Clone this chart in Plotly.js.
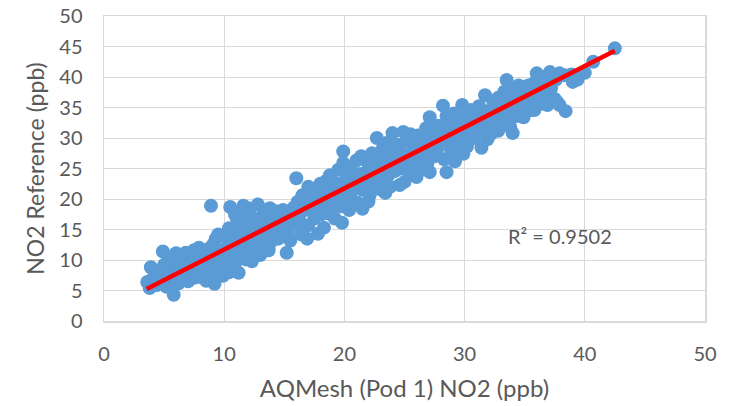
<!DOCTYPE html>
<html>
<head>
<meta charset="utf-8">
<script src="https://cdn.plot.ly/plotly-3.0.1.min.js"></script>
<style>html,body{margin:0;padding:0;background:#fff;}#chart{width:730px;height:406px;}</style>
</head>
<body>
<div id="chart"></div>
<script>
// AQMesh (Pod 1) NO2 (ppb) vs NO2 Reference (ppb)
const podNO2 = [
 3.6,3.8,3.9,4.2,4.4,
 4.9,5.0,5.1,5.2,5.4,5.5,
 5.8,5.9,6.0,6.1,6.2,6.4,6.5,
 6.8,6.9,7.0,7.2,7.3,7.5,7.5,
 7.8,7.9,8.0,8.2,8.3,8.5,8.5,
 8.9,8.8,9.0,9.1,9.2,9.3,9.4,9.5,
 9.8,9.9,10.0,10.1,10.3,10.4,10.5,10.5,
 10.8,10.9,11.0,11.1,11.2,11.3,11.5,11.6,11.4,
 11.8,11.9,12.0,12.2,12.3,12.4,12.5,12.6,
 12.8,12.9,13.0,13.1,13.3,13.4,13.5,
 13.8,13.9,14.0,14.2,14.4,14.5,
 14.9,15.0,15.2,15.3,15.5,15.5,
 16.0,16.1,16.0,16.3,16.4,16.5,
 16.9,17.0,17.0,17.2,17.3,17.5,17.5,
 17.8,17.9,18.0,18.1,18.3,18.4,18.5,
 18.8,18.9,19.0,19.2,19.3,19.5,19.5,
 19.9,19.9,19.8,20.0,20.2,20.4,20.5,20.5,
 20.8,21.0,21.1,21.3,21.5,21.5,21.4,
 21.8,22.0,22.1,22.3,22.4,22.5,
 22.7,22.9,23.0,23.2,23.3,23.5,23.5,
 23.8,24.0,24.1,24.2,24.4,24.5,24.6,
 24.9,25.0,25.1,25.2,25.4,25.5,25.5,
 25.8,26.0,26.1,26.3,26.4,26.5,
 26.8,26.9,27.0,27.1,27.1,27.3,27.5,
 27.8,28.0,28.2,28.3,28.4,28.5,28.5,
 28.8,29.0,29.1,29.2,29.4,29.5,
 29.8,29.9,30.0,30.2,30.3,30.5,30.5,
 30.8,31.0,31.2,31.4,31.5,
 31.7,31.9,32.0,32.2,32.4,32.5,
 32.8,33.0,33.1,33.3,33.5,33.5,
 33.8,34.0,34.1,34.3,34.5,34.5,
 34.9,35.0,35.1,35.3,35.5,35.5,
 36.0,36.0,36.2,36.4,36.5,
 37.1,37.0,37.3,37.5,37.9,
 37.7,38.4,37.9,
 39.0,39.4,40.0,40.7,42.5,
 4.0,4.6,5.3,5.7,6.3,6.6,7.1,7.6,8.1,8.6,8.7,9.6,9.7,10.2,10.6,11.0,11.6,11.7,
 12.1,12.4,12.7,13.2,13.6,13.7,14.1,14.6,14.7,15.1,15.6,15.8,16.2,16.7,16.8,
 17.4,17.6,18.2,18.6,18.7,19.1,19.4,19.7,20.1,20.7,20.9,21.2,21.7,21.9,22.2,
 22.6,22.8,23.1,23.6,23.7,24.3,24.7,24.8,25.3,25.7,25.9,26.2,26.6,26.7,27.2,
 27.6,27.7,28.1,28.6,28.7,29.3,29.6,29.7,30.1,30.6,30.7,31.1,31.3,31.6,32.1,
 32.6,32.7,33.2,33.6,33.7,34.2,34.7,34.8,35.2,35.7,35.8,36.3,36.7,36.8,37.2,
 37.6,38.3,38.9,
 12.9,13.9,14.3,11.3,10.4,9.5,10.9,12.0,22.0,23.4,26.0,29.2,30.2,31.9,32.8,35.8,36.9,34.0
];
const refNO2 = [
 6.4,5.4,8.8,7.0,5.9,
 11.4,9.2,7.6,5.6,10.3,6.8,
 4.3,9.9,11.1,8.0,6.2,10.5,7.3,
 11.2,9.0,6.5,8.1,10.4,7.1,11.6,
 9.4,12.0,7.2,10.6,8.4,11.3,6.6,
 18.9,9.8,7.5,12.6,6.1,13.5,10.3,8.4,
 11.6,7.4,13.9,9.2,12.2,8.0,10.7,18.7,
 14.8,9.4,12.5,16.5,7.9,11.0,13.8,18.9,17.6,
 10.1,15.7,12.2,17.3,9.8,14.3,11.3,16.4,
 19.1,13.2,10.8,15.5,17.8,12.4,14.6,
 18.5,16.3,14.0,17.2,15.2,13.5,
 18.2,16.4,11.2,14.8,17.4,13.2,
 23.4,19.5,15.9,17.6,14.2,20.6,
 13.5,22.0,15.7,18.4,20.0,16.8,21.3,
 14.3,19.2,22.5,17.5,15.3,20.7,23.0,
 23.9,18.4,21.0,16.8,22.6,19.7,24.8,
 27.8,25.9,16.1,21.8,23.6,18.2,20.5,25.0,
 22.4,26.3,19.4,24.1,18.4,21.5,27.0,
 23.2,25.7,20.6,27.5,22.1,24.5,
 30.0,26.4,21.6,28.3,23.8,25.6,29.2,
 22.0,30.8,27.4,24.6,28.9,26.0,22.3,
 31.0,22.8,27.0,29.5,25.2,30.6,24.0,
 28.0,26.1,30.4,24.7,29.0,27.2,
 31.6,25.8,28.8,33.4,24.4,30.2,27.0,
 32.0,29.6,35.3,26.5,31.1,24.4,33.6,
 28.4,30.8,34.0,26.2,32.4,29.2,
 35.4,27.4,31.3,33.4,29.5,31.8,34.6,
 30.0,33.0,35.2,28.4,31.4,
 37.0,32.4,34.4,30.7,35.8,33.0,
 36.6,32.0,34.5,37.6,39.5,33.2,
 31.8,35.5,37.8,33.6,36.5,38.6,
 33.4,35.0,37.2,38.6,34.6,36.4,
 40.6,36.1,38.0,35.6,39.3,
 40.8,37.4,39.2,36.4,40.6,
 35.9,34.4,35.4,
 39.2,39.6,40.7,42.5,44.7,
 6.8,8.0,8.6,7.5,9.0,8.4,9.6,8.9,9.9,9.2,11.8,11.0,9.4,10.4,12.8,10.8,12.0,14.8,
 13.4,11.2,13.8,14.2,16.2,11.6,15.6,16.8,14.6,15.4,16.0,18.6,16.8,18.2,19.8,
 18.0,19.6,19.8,21.2,17.6,20.4,22.0,18.8,20.2,21.6,23.6,22.4,24.2,21.6,23.0,
 25.2,23.0,25.0,26.8,24.0,25.6,27.6,25.0,26.6,28.6,26.0,27.8,29.8,27.0,28.2,
 30.0,28.0,30.6,31.6,29.6,30.2,31.6,33.2,32.4,33.0,31.2,31.8,33.8,33.4,33.4,
 35.2,33.8,35.6,36.8,34.6,35.2,37.2,35.6,36.2,37.6,39.0,37.0,38.4,39.6,38.2,
 39.6,40.3,40.4,
 16.6,13.0,18.0,15.6,15.2,14.2,17.4,18.5,19.6,21.0,23.6,27.6,28.6,29.8,31.2,34.6,35.4,30.8
];
// Linear trendline end points
const trendX = [3.55, 42.5];
const trendY = [5.25, 44.3];
const rSquaredLabel = "R² = 0.9502";
const xTicks = [0, 10, 20, 30, 40, 50];
const yTicks = [0, 5, 10, 15, 20, 25, 30, 35, 40, 45, 50];

const textColor = '#595959';
const gridColor = '#d9d9d9';
const fontFam = 'Lato, "Open Sans", sans-serif';

const data = [
  {x: podNO2, y: refNO2, type: 'scatter', mode: 'markers',
   marker: {color: '#5b9bd5', size: 14, line: {width: 0}}, hoverinfo: 'x+y'},
  {x: trendX, y: trendY, type: 'scatter', mode: 'lines',
   line: {color: '#ff0000', width: 4.5}}
];

const layout = {
  width: 730, height: 406,
  margin: {l: 104, r: 25, t: 16, b: 85},
  paper_bgcolor: '#ffffff', plot_bgcolor: '#ffffff',
  showlegend: false,
  font: {family: fontFam, color: textColor},
  xaxis: {
    range: [0, 50], tickvals: xTicks, ticktext: xTicks.map(String),
    showgrid: true, gridcolor: gridColor, gridwidth: 1,
    zeroline: false, showline: true, mirror: true, linecolor: gridColor, linewidth: 1.5,
    ticks: '', ticklabelstandoff: 14,
    tickfont: {family: fontFam, size: 20, color: textColor},
    title: {text: 'AQMesh (Pod 1) NO2 (ppb)', font: {family: fontFam, size: 24, color: textColor}, standoff: 16}
  },
  yaxis: {
    range: [0, 50], tickvals: yTicks, ticktext: yTicks.map(String),
    showgrid: true, gridcolor: gridColor, gridwidth: 1,
    zeroline: false, showline: true, mirror: true, linecolor: gridColor, linewidth: 1.5,
    ticks: '', ticklabelstandoff: 16,
    tickfont: {family: fontFam, size: 20, color: textColor},
    title: {text: 'NO2 Reference (ppb)', font: {family: fontFam, size: 23, color: textColor}, standoff: 8}
  },
  annotations: [{
    x: 37.9, y: 13.9, xref: 'x', yref: 'y', text: rSquaredLabel, showarrow: false,
    font: {family: fontFam, size: 20, color: textColor}
  }]
};

Plotly.newPlot('chart', data, layout, {displayModeBar: false, staticPlot: true});
</script>
</body>
</html>
